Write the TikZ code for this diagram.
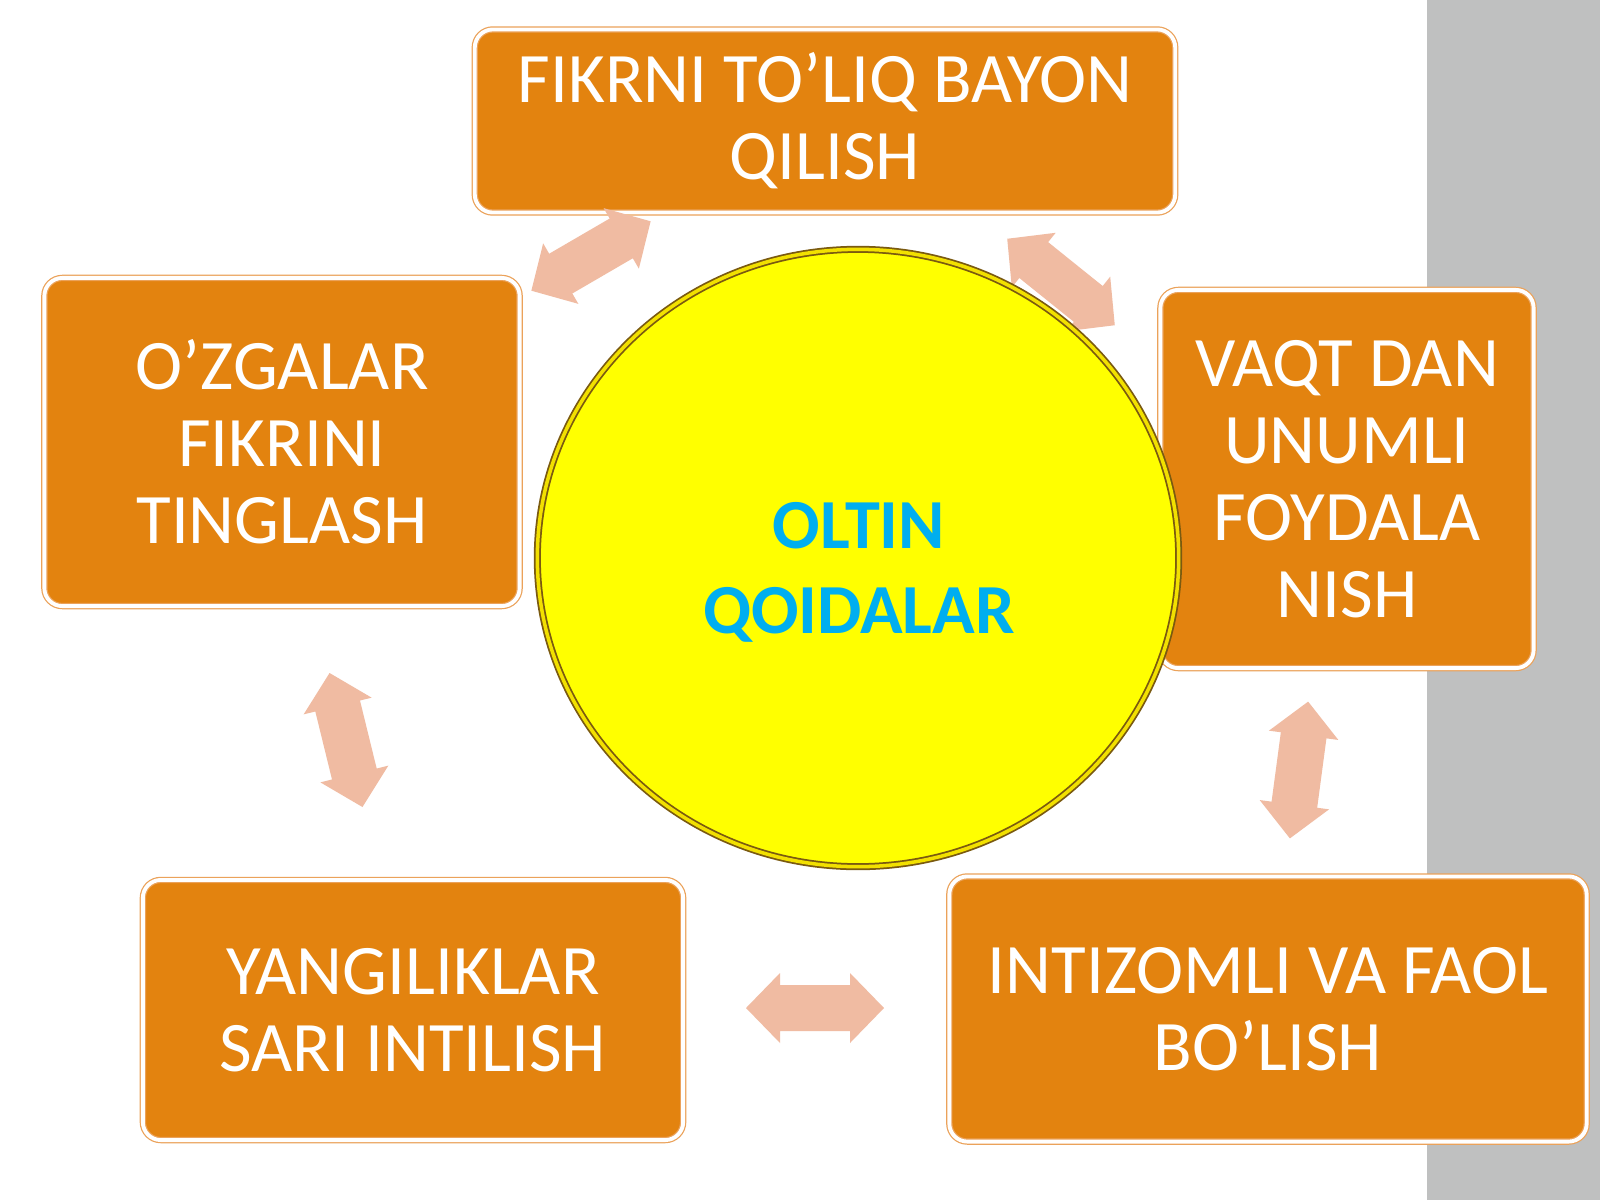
\documentclass[tikz,border=0pt]{standalone}
\usepackage{fontspec}
\setmainfont{Carlito}
\usetikzlibrary{shapes.geometric}
\definecolor{boxorange}{HTML}{E3830F}
\definecolor{boxedge}{HTML}{EBA25A}
\definecolor{arrowpeach}{HTML}{F0BBA2}
\definecolor{graybar}{HTML}{BFC0C0}
\definecolor{sunyellow}{HTML}{FFFF00}
\definecolor{rimbrown}{HTML}{7A5A10}
\definecolor{rimgold}{HTML}{F2E000}
\definecolor{titlecyan}{HTML}{00AEEF}
\tikzset{
  box/.style={draw=boxedge, line width=0.35pt, double=white, double distance=1.1pt,
    fill=boxorange, rounded corners=0.18cm, text=white,
    font=\fontsize{20.2}{21.9}\selectfont, align=center, inner sep=0pt},
  dblarrow/.pic={\fill[arrowpeach] (-69,0) -- (-35,-35) -- (-35,-23) -- (35,-23) -- (35,-35)
    -- (69,0) -- (35,35) -- (35,23) -- (-35,23) -- (-35,35) -- cycle;}
}
\begin{document}
\begin{tikzpicture}[x=0.01cm,y=-0.01cm]
\useasboundingbox (0,0) rectangle (1600,1200);
\fill[white] (0,0) rectangle (1600,1200);
\fill[graybar] (1427,0) rectangle (1600,1200);

% boxes
\node[box, minimum width=7cm, minimum height=1.83cm] (top) at (825,121)
  {FIKRNI TO’LIQ BAYON\\QILISH};
\node[box, minimum width=4.75cm, minimum height=3.28cm] (left) at (282,442)
  {O’ZGALAR\\FIKRINI\\TINGLASH};
\node[box, minimum width=3.73cm, minimum height=3.78cm] (right) at (1347,479)
  {VAQT DAN\\UNUMLI\\FOYDALA\\NISH};
\node[box, minimum width=5.4cm, minimum height=2.6cm] (bleft) at (413,1010)
  {YANGILIKLAR\\SARI INTILISH};
\node[box, minimum width=6.37cm, minimum height=2.65cm] (bright) at (1268,1009)
  {INTIZOMLI VA FAOL\\BO’LISH};

% double arrows
\pic[rotate=30.2] at (591,256) {dblarrow};
\pic[rotate=-38.8] at (1061,282) {dblarrow};
\pic[rotate=-76.2] at (346,740) {dblarrow};
\pic[rotate=0] at (815,1008) {dblarrow};
\pic[rotate=-97.6] at (1299,770) {dblarrow};

% central circle
\node[ellipse, minimum width=6.41cm, minimum height=6.17cm, fill=sunyellow,
  draw=rimbrown, line width=0.5pt, double=rimgold, double distance=1.0pt] (sun) at (858,558) {};
\node[text=titlecyan, font=\fontsize{20}{24.2}\selectfont\bfseries, align=center] (title)
  at (859,572) {OLTIN\\QOIDALAR};
\end{tikzpicture}
\end{document}
